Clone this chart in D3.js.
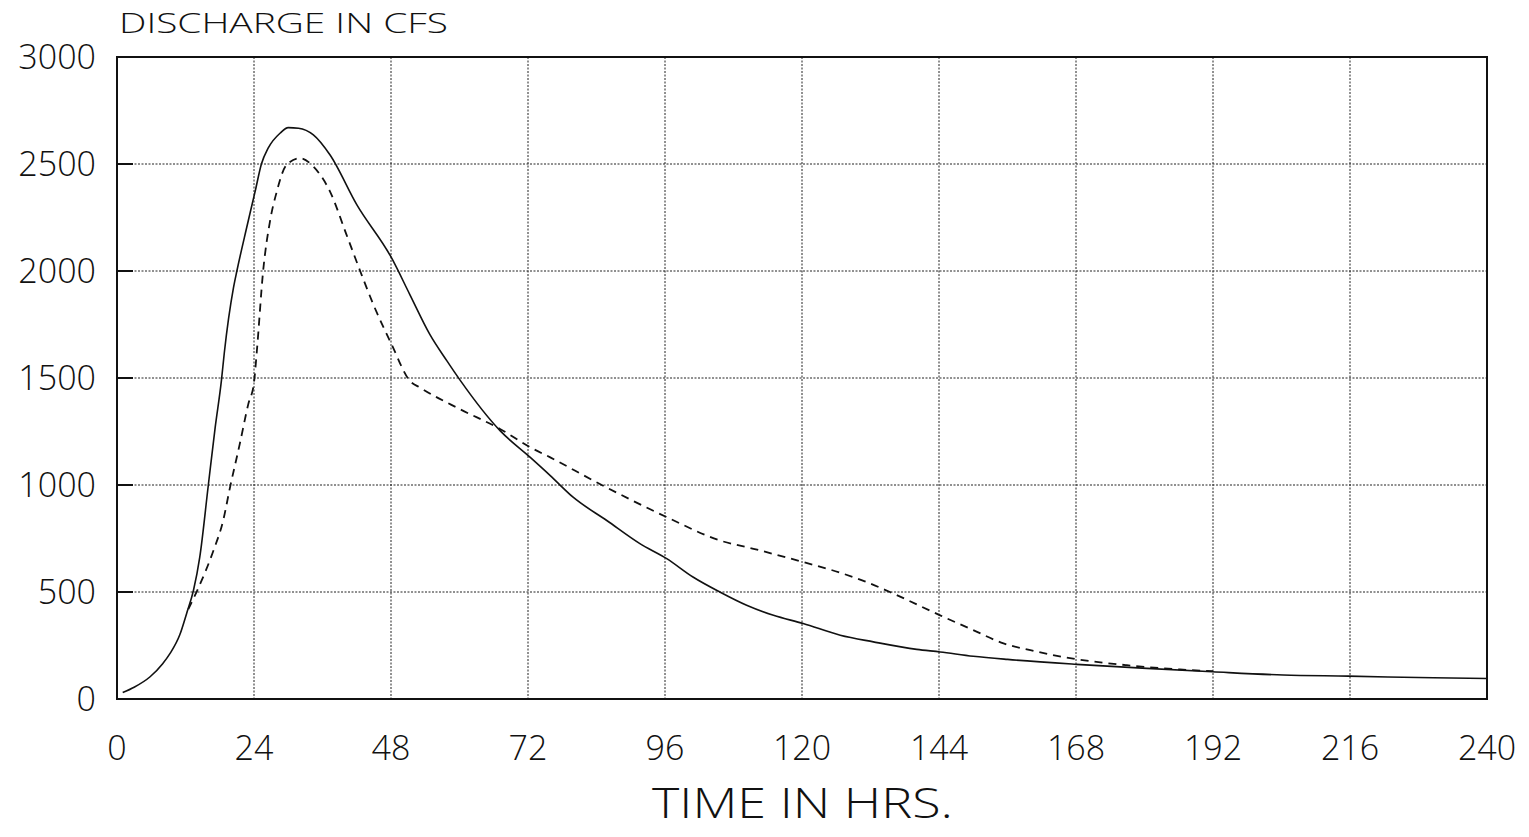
<!DOCTYPE html>
<html>
<head>
<meta charset="utf-8">
<script src="https://cdn.jsdelivr.net/npm/d3@7"></script>
<style>
	body { margin: 0; background: #fff; }
	text { font-family: "Open Sans", "DejaVu Sans", sans-serif; font-weight: 300; fill: #111; }
</style>
</head>
<body>
<div id="chart"></div>
<script>
// hydrograph readings, time in hours / discharge in cfs
var solidHours = [1, 3, 5.8, 8, 9.3, 11, 12.2, 13.4, 14.5, 16, 17.2, 18.3, 18.8, 20.4, 21, 22.7, 24.2, 25.3, 26.5, 28.6, 30, 31.8, 34.4, 37.3, 42, 48.1, 51.3, 54.8, 57.8, 60.1, 67.1, 72.4, 75.9, 79.9, 85.8, 91.6, 96.3, 100.9, 105.6, 110.3, 115, 120.2, 126.7, 132.5, 140.1, 144.2, 150, 156, 168.1, 180.4, 191.9, 204.3, 215.7, 230.6, 240];
var solidFlow = [30, 55, 104, 165, 213, 300, 400, 508, 663, 1000, 1269, 1490, 1618, 1921, 2000, 2201, 2372, 2500, 2575, 2645, 2670, 2667, 2636, 2543, 2310, 2061, 1890, 1704, 1580, 1490, 1254, 1129, 1044, 943, 834, 726, 656, 570, 500, 438, 391, 353, 298, 267, 232, 220, 200, 185, 162, 143, 127, 112, 107, 99, 96];

var dashedHours = [12.5, 14.2, 16.9, 18.6, 19.8, 21.5, 23, 24, 24.5, 25.6, 26.8, 28, 29.7, 32.1, 34.4, 37.3, 40.2, 42.6, 44.9, 48.1, 51.3, 53.1, 60.1, 67.1, 72.4, 75.9, 84, 96.3, 105.6, 111.5, 120.2, 126.7, 131, 135.4, 144.2, 150, 155.3, 160, 168.1, 176.9, 186.2, 192];
var dashedFlow = [420, 516, 694, 834, 989, 1191, 1378, 1479, 1626, 2000, 2232, 2372, 2496, 2527, 2488, 2372, 2170, 2000, 1844, 1657, 1487, 1455, 1354, 1262, 1176, 1129, 1013, 850, 741, 702, 640, 590, 550, 500, 391, 322, 260, 228, 186, 158, 138, 130];

var xTicks = [0, 24, 48, 72, 96, 120, 144, 168, 192, 216, 240];
var yTicks = [0, 500, 1000, 1500, 2000, 2500, 3000];

var width = 1529, height = 837;
var plotLeft = 117, plotRight = 1487, plotTop = 57, plotBottom = 699;

var svg = d3.select("#chart")
	.append("svg")
	.attr("width", width)
	.attr("height", height)

var x = d3.scaleLinear().domain([0, 240]).range([plotLeft, plotRight])
var y = d3.scaleLinear().domain([0, 3000]).range([plotBottom, plotTop])

// dotted grid
svg.append("g")
	.selectAll("line")
	.data(xTicks.slice(1, -1))
	.enter().append("line")
	.attr("x1", function(d) { return x(d) })
	.attr("x2", function(d) { return x(d) })
	.attr("y1", plotTop)
	.attr("y2", plotBottom)
	.attr("stroke", "#222")
	.attr("stroke-width", 1)
	.attr("stroke-dasharray", "2,1.5")

svg.append("g")
	.selectAll("line")
	.data(yTicks.slice(1, -1))
	.enter().append("line")
	.attr("x1", plotLeft)
	.attr("x2", plotRight)
	.attr("y1", function(d) { return y(d) })
	.attr("y2", function(d) { return y(d) })
	.attr("stroke", "#222")
	.attr("stroke-width", 1)
	.attr("stroke-dasharray", "2,1.5")

// short ticks on the left edge
svg.append("g")
	.selectAll("line")
	.data(yTicks.slice(1, -1))
	.enter().append("line")
	.attr("x1", plotLeft)
	.attr("x2", plotLeft + 16)
	.attr("y1", function(d) { return y(d) })
	.attr("y2", function(d) { return y(d) })
	.attr("stroke", "#111")
	.attr("stroke-width", 2)

// frame
svg.append("rect")
	.attr("x", plotLeft)
	.attr("y", plotTop)
	.attr("width", plotRight - plotLeft)
	.attr("height", plotBottom - plotTop)
	.attr("fill", "none")
	.attr("stroke", "#111")
	.attr("stroke-width", 2)

// tick labels
svg.append("g")
	.selectAll("text")
	.data(yTicks)
	.enter().append("text")
	.attr("x", 96)
	.attr("y", function(d) { return y(d) })
	.attr("dy", "0.36em")
	.attr("text-anchor", "end")
	.attr("font-size", 34)
	.text(function(d) { return d })

svg.append("g")
	.selectAll("text")
	.data(xTicks)
	.enter().append("text")
	.attr("x", function(d) { return x(d) })
	.attr("y", 760)
	.attr("text-anchor", "middle")
	.attr("font-size", 34)
	.text(function(d) { return d })

svg.append("text")
	.attr("x", 119)
	.attr("y", 33)
	.attr("font-size", 27)
	.attr("textLength", 329)
	.attr("lengthAdjust", "spacingAndGlyphs")
	.text("DISCHARGE IN CFS")

svg.append("text")
	.attr("x", 652)
	.attr("y", 818)
	.attr("font-size", 42)
	.attr("textLength", 301)
	.attr("lengthAdjust", "spacingAndGlyphs")
	.text("TIME IN HRS.")

// the two hydrographs
var line = d3.line()
	.x(function(d) { return x(d[0]) })
	.y(function(d) { return y(d[1]) })
	.curve(d3.curveMonotoneX)

svg.append("path")
	.datum(d3.zip(solidHours, solidFlow))
	.attr("d", line)
	.attr("fill", "none")
	.attr("stroke", "#111")
	.attr("stroke-width", 1.6)

svg.append("path")
	.datum(d3.zip(dashedHours, dashedFlow))
	.attr("d", line)
	.attr("fill", "none")
	.attr("stroke", "#111")
	.attr("stroke-width", 1.8)
	.attr("stroke-dasharray", "8,6")
</script>
</body>
</html>
